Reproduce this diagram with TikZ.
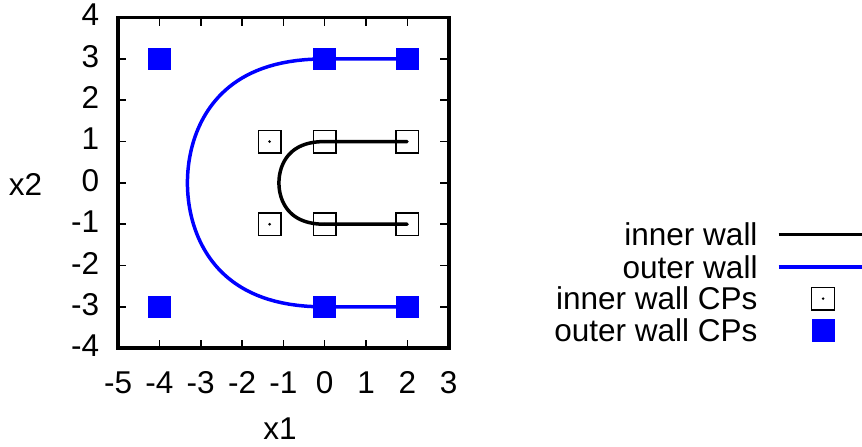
\documentclass[tikz,border=0pt]{standalone}
\usepackage{fontspec}
\setmainfont{Liberation Sans}
\newcommand{\cpweight}{1.63}

\begin{document}
\begin{tikzpicture}[every node/.style={font=\fontsize{21.7}{26}\selectfont, inner sep=0pt},
	frameline/.style={line width=2.6pt},
	tickmark/.style={line width=1.1pt},
	wall/.style={line width=2.4pt, line join=round},
	innercp/.style={draw, line width=0.9pt, minimum size=0.55cm},
	outercp/.style={fill=blue, minimum size=0.55cm}]
	\useasboundingbox (-7.856,-6.366) rectangle (13.0,4.425);
	% ticks on all four sides
	\foreach \x in {-4,...,2} {
		\draw[tickmark] (\x,-4) -- (\x,-3.8);
		\draw[tickmark] (\x,4) -- (\x,3.8);
	}
	\foreach \y in {-3,...,3} {
		\draw[tickmark] (-5,\y) -- (-4.8,\y);
		\draw[tickmark] (3,\y) -- (2.8,\y);
	}
	\draw[frameline] (-5,-4) rectangle (3,4);
	\foreach \x in {-5,...,3}
		\node (xt\x) at (\x,-4.83) {\x};
	\foreach \y in {-4,...,4}
		\node[anchor=east] (yt\y) at (-5.45,\y+0.06) {\y};
	\node (xlab) at (-1.08,-5.94) {x1};
	\node (ylab) at (-7.24,-0.05) {x2};
	% control points of the inner wall
	\foreach \x/\y [count=\i] in {-1.333/1, 0/1, 2/1, -1.333/-1, 0/-1, 2/-1} {
		\node[innercp] (icp\i) at (\x,\y) {};
		\fill (icp\i.center) circle (0.035);
	}
	% walls
	\draw[wall] (2,1) -- plot[domain=0:1, samples=81, variable=\t]
		({-4*\cpweight*\t*(1-\t)/((1-\t)^3+\t^3+3*\cpweight*\t*(1-\t))},
		 {((1-\t)^3-\t^3+3*\cpweight*\t*(1-\t)*(1-2*\t))/((1-\t)^3+\t^3+3*\cpweight*\t*(1-\t))}) -- (2,-1);
	\draw[wall, blue] (2,3) -- plot[domain=0:1, samples=81, variable=\t]
		({-12*\cpweight*\t*(1-\t)/((1-\t)^3+\t^3+3*\cpweight*\t*(1-\t))},
		 {3*((1-\t)^3-\t^3+3*\cpweight*\t*(1-\t)*(1-2*\t))/((1-\t)^3+\t^3+3*\cpweight*\t*(1-\t))}) -- (2,-3);
	% control points of the outer wall
	\foreach \x/\y [count=\i] in {-4/3, 0/3, 2/3, -4/-3, 0/-3, 2/-3}
		\node[outercp] (ocp\i) at (\x,\y) {};
	% key
	\node[anchor=east] (keyiw) at (10.48,-1.25) {inner wall};
	\node[anchor=east] (keyow) at (10.48,-2.03) {outer wall};
	\node[anchor=east] (keyicp) at (10.48,-2.80) {inner wall CPs};
	\node[anchor=east] (keyocp) at (10.48,-3.57) {outer wall CPs};
	\draw[wall] (10.98,-1.25) -- (13.0,-1.25);
	\draw[wall, blue] (10.98,-2.03) -- (13.0,-2.03);
	\node[innercp] (keyicpmark) at (12.06,-2.80) {};
	\fill (keyicpmark.center) circle (0.035);
	\node[outercp] (keyocpmark) at (12.06,-3.57) {};
\end{tikzpicture}
\end{document}
